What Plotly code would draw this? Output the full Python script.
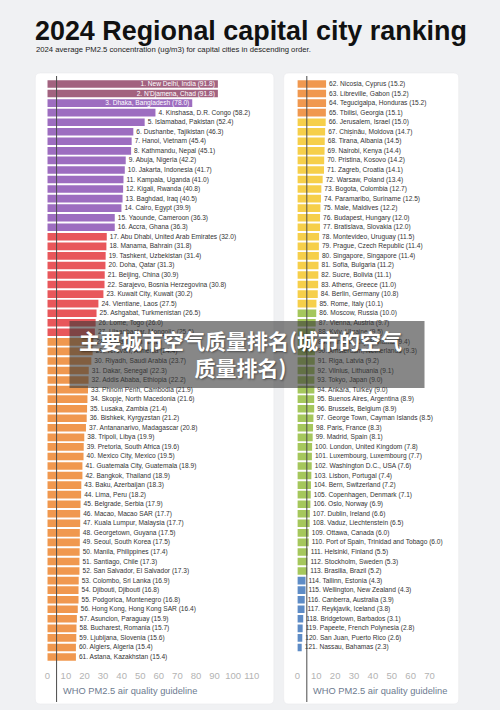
import plotly.graph_objects as go

W, H = 500, 710

# ---------------- data ----------------
left_cities = [
    "New Delhi, India", "N'Djamena, Chad", "Dhaka, Bangladesh", "Kinshasa, D.R. Congo",
    "Islamabad, Pakistan", "Dushanbe, Tajikistan", "Hanoi, Vietnam", "Kathmandu, Nepal",
    "Abuja, Nigeria", "Jakarta, Indonesia", "Kampala, Uganda", "Kigali, Rwanda",
    "Baghdad, Iraq", "Cairo, Egypt", "Yaounde, Cameroon", "Accra, Ghana",
    "Abu Dhabi, United Arab Emirates", "Manama, Bahrain", "Tashkent, Uzbekistan", "Doha, Qatar",
    "Beijing, China", "Sarajevo, Bosnia Herzegovina", "Kuwait City, Kuwait", "Vientiane, Laos",
    "Ashgabat, Turkmenistan", "Lome, Togo", "Ulaanbaatar, Mongolia", "Tehran, Iran",
    "Yerevan, Armenia", "Riyadh, Saudi Arabia", "Dakar, Senegal", "Addis Ababa, Ethiopia",
    "Phnom Penh, Cambodia", "Skopje, North Macedonia", "Lusaka, Zambia", "Bishkek, Kyrgyzstan",
    "Antananarivo, Madagascar", "Tripoli, Libya", "Pretoria, South Africa", "Mexico City, Mexico",
    "Guatemala City, Guatemala", "Bangkok, Thailand", "Baku, Azerbaijan", "Lima, Peru",
    "Belgrade, Serbia", "Macao, Macao SAR", "Kuala Lumpur, Malaysia", "Georgetown, Guyana",
    "Seoul, South Korea", "Manila, Philippines", "Santiago, Chile", "San Salvador, El Salvador",
    "Colombo, Sri Lanka", "Djibouti, Djibouti", "Podgorica, Montenegro", "Hong Kong, Hong Kong SAR",
    "Asuncion, Paraguay", "Bucharest, Romania", "Ljubljana, Slovenia", "Algiers, Algeria",
    "Astana, Kazakhstan",
]
left_values = [
    91.8, 91.8, 78.0, 58.2, 52.4, 46.3, 45.4, 45.1, 42.2, 41.7, 41.0, 40.8, 40.5, 39.9,
    36.3, 36.3, 32.0, 31.8, 31.4, 31.3, 30.9, 30.8, 30.2, 27.5, 26.5, 26.0, 25.6, 24.8,
    24.4, 23.7, 22.3, 22.2, 21.9, 21.6, 21.4, 21.2, 20.8, 19.9, 19.6, 19.5, 18.9, 18.9,
    18.3, 18.2, 17.9, 17.7, 17.7, 17.5, 17.5, 17.4, 17.3, 17.3, 16.9, 16.8, 16.8, 16.4,
    15.9, 15.7, 15.6, 15.4, 15.4,
]
right_cities = [
    "Nicosia, Cyprus", "Libreville, Gabon", "Tegucigalpa, Honduras", "Tbilisi, Georgia",
    "Jerusalem, Israel", "Chișinău, Moldova", "Tirana, Albania", "Nairobi, Kenya",
    "Pristina, Kosovo", "Zagreb, Croatia", "Warsaw, Poland", "Bogota, Colombia",
    "Paramaribo, Suriname", "Male, Maldives", "Budapest, Hungary", "Bratislava, Slovakia",
    "Montevideo, Uruguay", "Prague, Czech Republic", "Singapore, Singapore", "Sofia, Bulgaria",
    "Sucre, Bolivia", "Athens, Greece", "Berlin, Germany", "Rome, Italy",
    "Moscow, Russia", "Vienna, Austria", "Kyiv, Ukraine", "Panama City, Panama",
    "Amsterdam, Netherlands", "Riga, Latvia", "Vilnius, Lithuania", "Tokyo, Japan",
    "Ankara, Turkey", "Buenos Aires, Argentina", "Brussels, Belgium", "George Town, Cayman Islands",
    "Paris, France", "Madrid, Spain", "London, United Kingdom", "Luxembourg, Luxembourg",
    "Washington D.C., USA", "Lisbon, Portugal", "Bern, Switzerland", "Copenhagen, Denmark",
    "Oslo, Norway", "Dublin, Ireland", "Vaduz, Liechtenstein", "Ottawa, Canada",
    "Port of Spain, Trinidad and Tobago", "Helsinki, Finland", "Stockholm, Sweden", "Brasilia, Brazil",
    "Tallinn, Estonia", "Wellington, New Zealand", "Canberra, Australia", "Reykjavik, Iceland",
    "Bridgetown, Barbados", "Papeete, French Polynesia", "San Juan, Puerto Rico", "Nassau, Bahamas",
]
right_values = [
    15.2, 15.2, 15.2, 15.1, 15.0, 14.7, 14.5, 14.4, 14.2, 14.1, 13.4, 12.7, 12.5, 12.2,
    12.0, 12.0, 11.5, 11.4, 11.4, 11.2, 11.1, 11.0, 10.8, 10.1, 10.0, 9.7, 9.5, 9.4,
    9.3, 9.2, 9.1, 9.0, 9.0, 8.9, 8.9, 8.5, 8.3, 8.1, 7.8, 7.7, 7.6, 7.4, 7.2, 7.1,
    6.9, 6.6, 6.5, 6.0, 6.0, 5.5, 5.3, 5.2, 4.3, 4.3, 3.9, 3.8, 3.1, 2.8, 2.6, 2.3,
]
left_ticks = [0, 10, 20, 30, 40, 50, 60, 70, 80, 90, 100, 110]
right_ticks = [0, 10, 20, 30, 40, 50, 60, 70]
who_guideline = 5

title_text = "2024 Regional capital city ranking"
subtitle_text = "2024 average PM2.5 concentration (ug/m3) for capital cities in descending order."
who_text = "WHO PM2.5 air quality guideline"
watermark_text = "主要城市空气质量排名(城市的空气<br>质量排名)"

# ---------------- style ----------------
BG = "#f0f1f3"
TIERS = [(80, "#a2627f"), (35, "#9d6dc0"), (25, "#e8575b"), (15, "#f0984f"),
         (10, "#f6cf4a"), (5, "#a5c75c"), (-1, "#5e8cc6")]


def tier_color(v):
    for lim, c in TIERS:
        if v > lim:
            return c
    return TIERS[-1][1]


ROW0, ROWH = 84.0, 9.55
Y_TOP, Y_BOT = 74.0, 668.0


def yrange(first_rank):
    return [first_rank + (Y_BOT - ROW0) / ROWH, first_rank + (Y_TOP - ROW0) / ROWH]


def fx(p):
    return p / W


def fy(p):
    return 1 - p / H


def rrect_path(x0, y0, x1, y1, r):
    pts = [
        ("M", x0 + r, y0), ("L", x1 - r, y0), ("Q", x1, y0, x1, y0 + r),
        ("L", x1, y1 - r), ("Q", x1, y1, x1 - r, y1), ("L", x0 + r, y1),
        ("Q", x0, y1, x0, y1 - r), ("L", x0, y0 + r), ("Q", x0, y0, x0 + r, y0),
    ]
    s = ""
    for p in pts:
        cmd = p[0]
        coords = p[1:]
        parts = []
        for i in range(0, len(coords), 2):
            parts.append(f"{fx(coords[i]):.5f},{fy(coords[i+1]):.5f}")
        s += cmd + " " + " ".join(parts) + " "
    return s + "Z"


left_ranks = list(range(1, len(left_values) + 1))
right_ranks = list(range(len(left_values) + 1, len(left_values) + len(right_values) + 1))

left_labels = [f"{r}. {c} ({v:.1f})" for r, c, v in zip(left_ranks, left_cities, left_values)]
right_labels = [f"{r}. {c} ({v:.1f})" for r, c, v in zip(right_ranks, right_cities, right_values)]
left_pos = ["inside" if v > 70 else "outside" for v in left_values]

fig = go.Figure()
fig.add_trace(go.Bar(
    x=left_values, y=left_ranks, orientation="h", width=0.8,
    marker=dict(color=[tier_color(v) for v in left_values], line=dict(width=0)),
    text=left_labels, textposition=left_pos, insidetextanchor="end",
    textfont=dict(size=6.6, family="Liberation Sans, Arial, sans-serif"),
    insidetextfont=dict(color="white", size=6.6),
    outsidetextfont=dict(color="#333333", size=6.6),
    constraintext="none", cliponaxis=False, hoverinfo="skip",
    xaxis="x", yaxis="y",
))
fig.add_trace(go.Bar(
    x=right_values, y=right_ranks, orientation="h", width=0.8,
    marker=dict(color=[tier_color(v) for v in right_values], line=dict(width=0)),
    text=right_labels, textposition="outside",
    textfont=dict(size=6.6, family="Liberation Sans, Arial, sans-serif", color="#333333"),
    outsidetextfont=dict(color="#333333", size=6.6),
    constraintext="none", cliponaxis=False, hoverinfo="skip",
    xaxis="x2", yaxis="y2",
))

tickfont = dict(size=9.5, color="#b3b3b3", family="Liberation Sans, Arial, sans-serif")
L0, LS = 45.3, 1.9
R0, RS = 301.0, 1.93
fig.update_layout(
    width=W, height=H, margin=dict(l=0, r=0, t=0, b=0),
    paper_bgcolor=BG, plot_bgcolor="rgba(0,0,0,0)",
    showlegend=False, barmode="overlay",
    font=dict(family="Liberation Sans, Arial, sans-serif"),
    xaxis=dict(domain=[fx(L0), fx(L0 + 110 * LS)], range=[0, 110], anchor="y",
               tickvals=left_ticks, showgrid=False, zeroline=False, showline=False,
               ticks="", tickfont=tickfont, fixedrange=True),
    yaxis=dict(domain=[fy(Y_BOT), fy(Y_TOP)], range=yrange(1), visible=False, fixedrange=True),
    xaxis2=dict(domain=[fx(R0), fx(R0 + 72 * RS)], range=[0, 72], anchor="y2",
                tickvals=right_ticks, showgrid=False, zeroline=False, showline=False,
                ticks="", tickfont=tickfont, fixedrange=True),
    yaxis2=dict(domain=[fy(Y_BOT), fy(Y_TOP)], range=yrange(len(left_values) + 1),
                visible=False, fixedrange=True),
)

shapes = [
    dict(type="path", xref="paper", yref="paper", path=rrect_path(33, 73, 277, 704, 5),
         fillcolor="white", line=dict(color="#e9eaec", width=0.6), layer="below"),
    dict(type="path", xref="paper", yref="paper", path=rrect_path(287, 73, 466, 704, 5),
         fillcolor="white", line=dict(color="#e9eaec", width=0.6), layer="below"),
    dict(type="line", xref="x", yref="paper", x0=who_guideline, x1=who_guideline,
         y0=fy(76), y1=fy(702), line=dict(color="#4a4a4a", width=1), layer="above"),
    dict(type="line", xref="x2", yref="paper", x0=who_guideline, x1=who_guideline,
         y0=fy(76), y1=fy(702), line=dict(color="#4a4a4a", width=1), layer="above"),
    dict(type="rect", xref="paper", yref="paper", x0=fx(68), x1=fx(431), y0=fy(388), y1=fy(321),
         fillcolor="rgba(55,55,55,0.6)", line=dict(width=0), layer="above"),
]
fig.update_layout(shapes=shapes)

annotations = [
    dict(text=f"<b>{title_text}</b>", x=fx(31), y=fy(30.5), xref="paper", yref="paper",
         xanchor="left", yanchor="middle", showarrow=False,
         font=dict(size=26.9, color="#111111", family="Liberation Sans, Arial, sans-serif")),
    dict(text=subtitle_text, x=fx(32), y=fy(49.5), xref="paper", yref="paper",
         xanchor="left", yanchor="middle", showarrow=False,
         font=dict(size=7.7, color="#222222", family="Liberation Sans, Arial, sans-serif")),
    dict(text=who_text, x=fx(59), y=fy(691), xref="paper", yref="paper",
         xanchor="left", yanchor="middle", showarrow=False,
         font=dict(size=9.3, color="#6d7b8f", family="Liberation Sans, Arial, sans-serif")),
    dict(text=who_text, x=fx(315), y=fy(691), xref="paper", yref="paper",
         xanchor="left", yanchor="middle", showarrow=False,
         font=dict(size=9.3, color="#6d7b8f", family="Liberation Sans, Arial, sans-serif")),
    dict(text=f"<b>{watermark_text}</b>", x=fx(243), y=fy(353.5), xref="paper", yref="paper",
         xanchor="center", yanchor="middle", showarrow=False, align="center",
         font=dict(size=21, color="white", family="Noto Sans CJK SC, sans-serif",
                   shadow="1px 1px 2px rgba(0,0,0,0.45)")),
]
fig.update_layout(annotations=annotations)

fig.write_html("out.html", config={"displayModeBar": False})
